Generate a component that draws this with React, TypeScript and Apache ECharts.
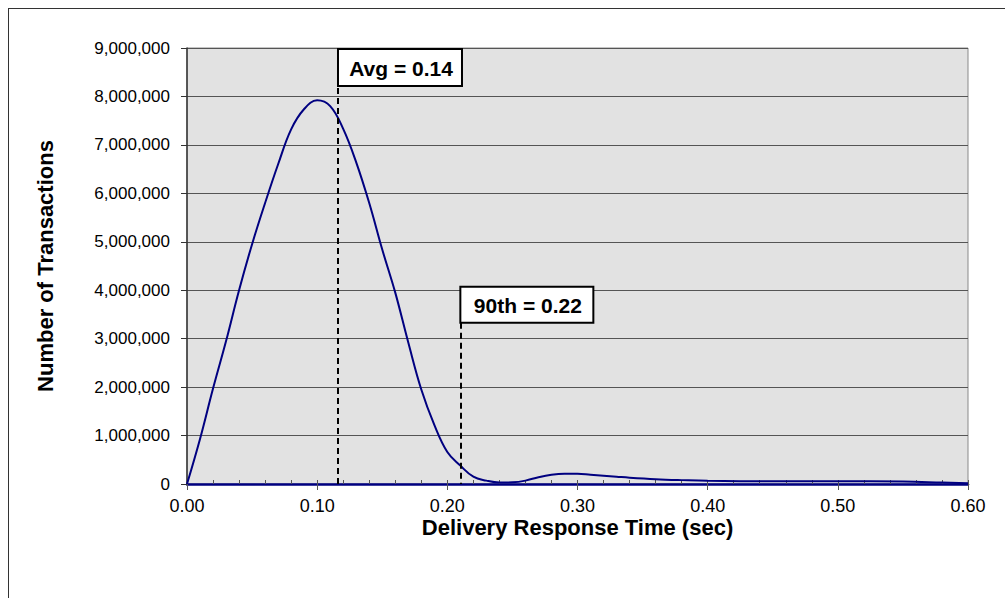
import React, { useEffect, useRef } from "react";
import * as echarts from "echarts";

// Response time (sec)
const X_VALUES = [
  0.0, 0.01, 0.02, 0.03, 0.04, 0.05, 0.06, 0.07, 0.08, 0.09,
  0.1, 0.11, 0.12, 0.13, 0.14, 0.15, 0.16, 0.17, 0.18, 0.19,
  0.2, 0.21, 0.22, 0.23, 0.24, 0.25, 0.26, 0.27, 0.28, 0.29,
  0.3, 0.31, 0.32, 0.33, 0.34, 0.36, 0.38, 0.4, 0.45, 0.5,
  0.55, 0.58, 0.6,
];
// Number of transactions (millions)
const COUNTS_M = [
  0, 0.93, 1.97, 2.95, 4.0, 4.95, 5.8, 6.6, 7.32, 7.74,
  7.92, 7.8, 7.33, 6.64, 5.8, 4.84, 3.95, 2.92, 1.95, 1.22,
  0.66, 0.38, 0.15, 0.07, 0.03, 0.035, 0.07, 0.14, 0.19, 0.21,
  0.21, 0.19, 0.17, 0.15, 0.13, 0.1, 0.08, 0.065, 0.055, 0.055,
  0.05, 0.03, 0.015,
];

const X_MIN = 0;
const X_MAX = 0.6;
const X_INTERVAL = 0.1;
const X_MINOR_INTERVAL = 0.02;
const Y_MIN = 0;
const Y_MAX = 9000000;
const Y_INTERVAL = 1000000;

const AVG_X = 0.116;
const AVG_LABEL = "Avg = 0.14";
const P90_X = 0.21;
const P90_TOP = 3330000;
const P90_LABEL = "90th = 0.22";

const X_TITLE = "Delivery Response Time (sec)";
const Y_TITLE = "Number of Transactions";

const FONT = "'Liberation Sans', Arial, Helvetica, sans-serif";

export default function App() {
  const ref = useRef<HTMLDivElement>(null);

  useEffect(() => {
    if (!ref.current) return;
    const chart = echarts.init(ref.current, null, { renderer: "svg" });
    const data = X_VALUES.map((x, i) => [x, COUNTS_M[i] * 1000000]);

    chart.setOption({
      animation: false,
      backgroundColor: "#ffffff",
      textStyle: { fontFamily: FONT },
      grid: {
        left: 187,
        top: 48,
        right: 37,
        bottom: 114,
        show: true,
        backgroundColor: "#e2e2e2",
        borderColor: "#8a8a8a",
        borderWidth: 1,
      },
      xAxis: [
        {
          type: "value",
          min: X_MIN,
          max: X_MAX,
          interval: X_INTERVAL,
          name: X_TITLE,
          nameLocation: "middle",
          nameGap: 32,
          nameMoveOverlap: false,
          nameTextStyle: { fontFamily: FONT, fontSize: 22, fontWeight: "bold", color: "#000" },
          axisLine: { show: true, onZero: false, lineStyle: { color: "#000080", width: 2.5 } },
          axisTick: { show: true, inside: false, length: 6, lineStyle: { color: "#555", width: 1 } },
          axisLabel: {
            margin: 13,
            fontFamily: FONT,
            fontSize: 18,
            color: "#000",
            formatter: (v: number) => v.toFixed(2),
          },
          splitLine: { show: false },
        },
        {
          type: "value",
          position: "bottom",
          min: X_MIN,
          max: X_MAX,
          interval: X_MINOR_INTERVAL,
          axisLine: { show: false },
          axisTick: { show: true, inside: true, length: 4, lineStyle: { color: "#555", width: 1 } },
          axisLabel: { show: false },
          splitLine: { show: false },
        },
      ],
      yAxis: {
        type: "value",
        min: Y_MIN,
        max: Y_MAX,
        interval: Y_INTERVAL,
        name: Y_TITLE,
        nameLocation: "middle",
        nameGap: 131,
        nameMoveOverlap: false,
        nameTextStyle: { fontFamily: FONT, fontSize: 22, fontWeight: "bold", color: "#000" },
        axisLine: { show: true, lineStyle: { color: "#333", width: 1.5 } },
        axisTick: { show: true, length: 6, lineStyle: { color: "#333", width: 1 } },
        axisLabel: {
          margin: 17,
          fontFamily: FONT,
          fontSize: 17,
          color: "#000",
          formatter: (v: number) => v.toLocaleString("en-US"),
        },
        splitLine: { show: true, lineStyle: { color: "#555", width: 1 } },
      },
      series: [
        {
          type: "line",
          data,
          smooth: 0.4,
          showSymbol: false,
          z: 3,
          lineStyle: { color: "#000080", width: 2 },
          markLine: {
            silent: true,
            symbol: ["none", "none"],
            label: { show: false },
            lineStyle: { color: "#000", width: 2, type: [6, 4] },
            z: 4,
            data: [
              [{ coord: [AVG_X, Y_MAX] }, { coord: [AVG_X, 0] }],
              [{ coord: [P90_X, P90_TOP] }, { coord: [P90_X, 0] }],
            ],
          },
        },
      ],
    });

    const avgTop = chart.convertToPixel({ gridIndex: 0 }, [AVG_X, Y_MAX]) as number[];
    const p90Top = chart.convertToPixel({ gridIndex: 0 }, [P90_X, P90_TOP]) as number[];

    const box = (x: number, y: number, w: number, h: number, label: string) => ({
      type: "group",
      x,
      y,
      z: 10,
      children: [
        {
          type: "rect",
          shape: { x: 0, y: 0, width: w, height: h },
          style: { fill: "#ffffff", stroke: "#000", lineWidth: 2 },
        },
        {
          type: "text",
          x: w / 2 + 1,
          y: h / 2 + 1,
          style: {
            text: label,
            fill: "#000",
            fontFamily: FONT,
            fontSize: 21,
            fontWeight: "bold",
            align: "center",
            verticalAlign: "middle",
          },
        },
      ],
    });

    chart.setOption({
      graphic: [
        {
          type: "line",
          shape: { x1: 8.5, y1: 8, x2: 8.5, y2: 598 },
          style: { stroke: "#333", lineWidth: 1 },
        },
        {
          type: "line",
          shape: { x1: 8, y1: 8.5, x2: 1005, y2: 8.5 },
          style: { stroke: "#333", lineWidth: 1 },
        },
        box(avgTop[0], avgTop[1] + 1, 124, 37, AVG_LABEL),
        box(p90Top[0], p90Top[1] - 36, 133, 36, P90_LABEL),
      ],
    });

    return () => chart.dispose();
  }, []);

  return (
    <div
      ref={ref}
      style={{ position: "fixed", left: 0, top: 0, width: 1005, height: 598, background: "#fff" }}
    />
  );
}
